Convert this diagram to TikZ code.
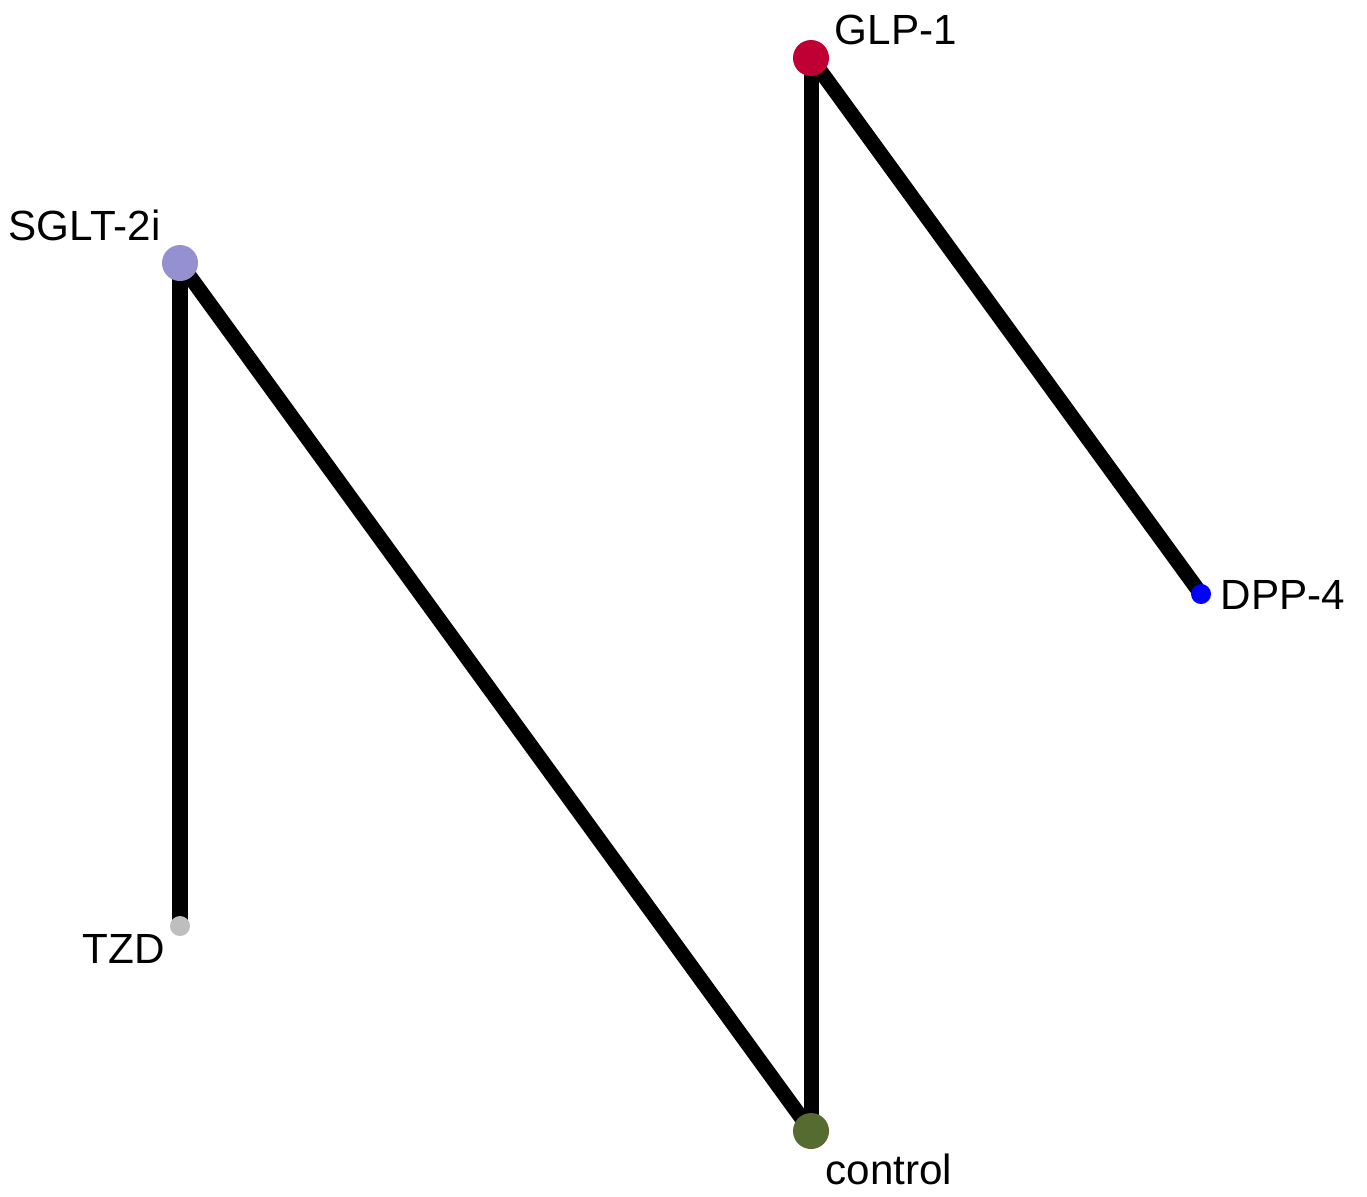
\documentclass[tikz,border=0pt]{standalone}
\usepackage{fontspec}
\setmainfont{Liberation Sans}
\usetikzlibrary{backgrounds}
\definecolor{glpred}{RGB}{192,0,52}
\definecolor{sgltlav}{RGB}{149,144,207}
\definecolor{tzdgray}{RGB}{190,190,190}
\definecolor{ctrlgreen}{RGB}{85,107,47}
\definecolor{dppblue}{RGB}{0,0,255}
\tikzset{
  bigdot/.style   = {circle,inner sep=0pt,minimum size=0.36cm},
  smalldot/.style = {circle,inner sep=0pt,minimum size=0.20cm},
  trt/.style      = {inner sep=0pt,anchor=base west,font=\fontsize{12}{14}\selectfont},
  edge/.style     = {line width=0.15cm,black},
}
\begin{document}
\begin{tikzpicture}[x=0.01cm,y=-0.01cm]
  \useasboundingbox (0,0) rectangle (1367,1196);
  % treatments
  \node[bigdot,fill=glpred]     (glp)  at (811,58)   {};
  \node[bigdot,fill=sgltlav]    (sglt) at (180,263)  {};
  \node[smalldot,fill=tzdgray]  (tzd)  at (180,926)  {};
  \node[bigdot,fill=ctrlgreen]  (ctrl) at (811,1131) {};
  \node[smalldot,fill=dppblue]  (dpp)  at (1201,594) {};
  % labels
  \node[trt] (glplab)  at (834,44)   {GLP-1};
  \node[trt] (sgltlab) at (8,240)    {SGLT-2i};
  \node[trt] (tzdlab)  at (82,963)   {TZD};
  \node[trt] (ctrllab) at (825,1184) {control};
  \node[trt] (dpplab)  at (1220,609) {DPP-4};
  % comparisons
  \begin{pgfonlayer}{background}
    \draw[edge] (sglt.center) -- (tzd.center);
    \draw[edge] (sglt.center) -- (ctrl.center);
    \draw[edge] (glp.center)  -- (ctrl.center);
    \draw[edge] (glp.center)  -- (dpp.center);
  \end{pgfonlayer}
\end{tikzpicture}
\end{document}
